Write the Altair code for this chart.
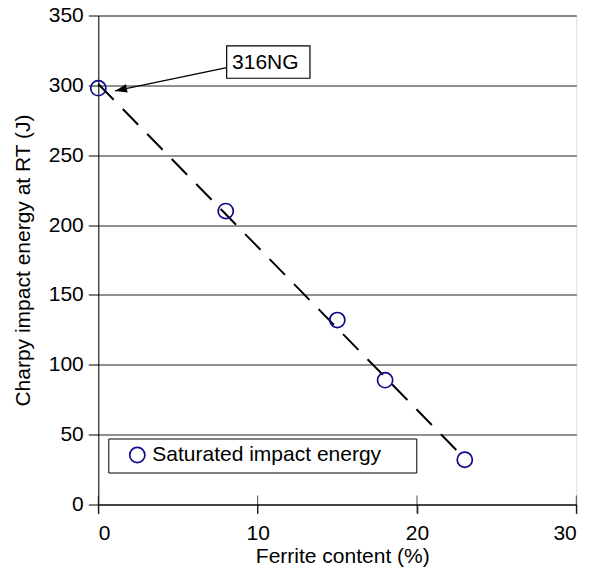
import altair as alt
import pandas as pd

# ---- data ----
ferrite = [0, 8, 15, 18, 23]
energy = [298, 210, 132, 89, 32]
series_name = "Saturated impact energy"

trend_x = [0, 22.6]
trend_y = [301, 37.5]

x_ticks = [0, 10, 20, 30]
y_ticks = [0, 50, 100, 150, 200, 250, 300, 350]

ann_label = "316NG"
ann_x = 10.67
ann_y = 316.7
arrow_x = [8.06, 1.05]
arrow_y = [312.7, 296.0]

FONT = "Liberation Sans"
FS = 21
NAVY = "#0c0c8a"

pts = pd.DataFrame({"x": ferrite, "y": energy, "series": [series_name] * len(ferrite)})
trend = pd.DataFrame({"x": trend_x, "y": trend_y})
xt = pd.DataFrame({"x": x_ticks})
arrow = pd.DataFrame({"x": arrow_x, "y": arrow_y, "o": [0, 1]})
tip = pd.DataFrame({"x": [arrow_x[-1]], "y": [arrow_y[-1]]})
ann = pd.DataFrame({"x": [ann_x], "y": [ann_y], "label": [ann_label]})

x_axis = alt.Axis(
    values=x_ticks, title="Ferrite content (%)", grid=False,
    labelFontSize=FS, labelFont=FONT, labelColor="black",
    titleFontSize=FS, titleFont=FONT, titleColor="black", titleFontWeight="normal",
    domainColor="black", tickColor="black", tickSize=9, labelPadding=9,
    titleX=244, titleY=52, titleBaseline="middle", titleAlign="center",
)
y_axis = alt.Axis(
    values=y_ticks, title="Charpy impact energy at RT (J)", grid=True,
    gridColor="#222222", gridWidth=1,
    labelFontSize=FS, labelFont=FONT, labelColor="black",
    titleFontSize=FS, titleFont=FONT, titleColor="black", titleFontWeight="normal",
    domainColor="black", tickColor="black", tickSize=10, labelPadding=5,
    titleX=-75, titleY=244.5, titleAngle=-90, titleBaseline="middle", titleAlign="center",
)
xs = alt.Scale(domain=[0, 30], nice=False)
ys = alt.Scale(domain=[0, 350], nice=False)


def X(f="x"):
    return alt.X(f, type="quantitative", scale=xs, axis=x_axis)


def Y(f="y"):
    return alt.Y(f, type="quantitative", scale=ys, axis=y_axis)


trend_layer = alt.Chart(trend).mark_line(
    color="black", strokeWidth=2, strokeDash=[22, 13]
).encode(x=X(), y=Y())

pad_tail = "\u00a0" * 5 + "\u200b"

points = alt.Chart(pts).mark_point(
    shape="circle", filled=False, size=230, strokeWidth=1.7, opacity=1
).encode(
    x=X(), y=Y(),
    color=alt.Color(
        "series:N",
        scale=alt.Scale(range=[NAVY]),
        legend=alt.Legend(
            title=None, orient="none", legendX=10, legendY=423,
            strokeColor="black", fillColor="white", padding=6,
            symbolOffset=12.5, labelOffset=4.5, labelFontSize=FS, labelFont=FONT,
            labelColor="black", symbolType="circle", symbolSize=230,
            symbolStrokeWidth=1.7, symbolOpacity=1, labelLimit=0,
            labelExpr="datum.label + '" + pad_tail + "'",
        ),
    ),
)

xticks_layer = alt.Chart(xt).mark_tick(
    orient="vertical", color="black", size=18, thickness=1
).encode(x=X(), y=alt.datum(0))

arrow_line = alt.Chart(arrow).mark_line(color="black", strokeWidth=1.3).encode(
    x=X(), y=Y(), order="o:Q"
)
arrow_head = alt.Chart(tip).mark_point(
    shape="M0,0L-0.35,1L0.35,1Z", size=576, filled=True, color="black",
    angle=258, opacity=1
).encode(x=X(), y=Y())

box = alt.Chart(ann).mark_point(
    shape="M-1,-0.39L1,-0.39L1,0.39L-1,0.39Z", size=6939, filled=True,
    fill="white", stroke="black", strokeWidth=1.2, opacity=1
).encode(x=X(), y=Y())
box_text = alt.Chart(ann).mark_text(
    font=FONT, fontSize=FS, color="black", dx=-3, dy=1, baseline="middle"
).encode(x=X(), y=Y(), text="label:N")

chart = alt.layer(
    trend_layer, points, xticks_layer, arrow_line, arrow_head, box, box_text
).properties(
    width=478, height=489,
    autosize=alt.AutoSizeParams(type="none"),
    padding={"left": 98.3, "top": 15.5, "right": 22.7, "bottom": 68.5},
).configure_view(
    stroke="black", strokeWidth=1
).configure(font=FONT, background="white")

chart.save("out.html", embed_options={"renderer": "svg", "actions": False})
